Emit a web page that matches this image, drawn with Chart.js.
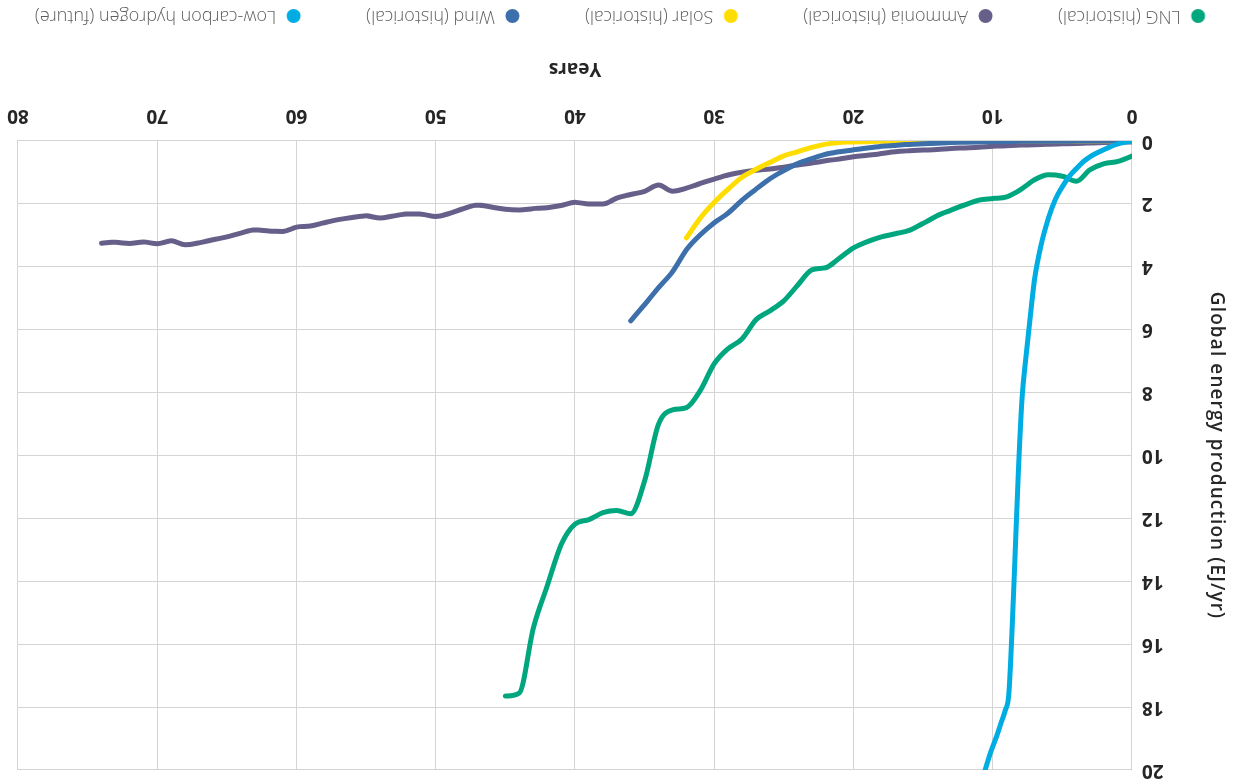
<!DOCTYPE html>
<html>
<head>
<meta charset="utf-8">
<script src="https://cdn.jsdelivr.net/npm/chart.js@4/dist/chart.umd.min.js"></script>
<style>
  html, body { margin: 0; padding: 0; width: 1239px; height: 782px; overflow: hidden; background: #ffffff; }
  #wrap { position: absolute; left: -40px; top: 0; width: 1319px; height: 782px;
          transform: rotate(180deg); transform-origin: 50% 50%; }
  canvas { display: block; }
</style>
</head>
<body>
<div id="wrap"><canvas id="c" width="1319" height="782"></canvas></div>
<script>
// ---------- data ----------
const seriesNames = ['LNG (historical)', 'Ammonia (historical)', 'Solar (historical)', 'Wind (historical)', 'Low-carbon hydrogen (future)'];
const seriesColors = ['#00A67E', '#655F8A', '#FFDD00', '#3D6FAB', '#00ADE3'];

const xTickValues = [0, 10, 20, 30, 40, 50, 60, 70, 80];
const yTickValues = [0, 2, 4, 6, 8, 10, 12, 14, 16, 18, 20];

const lngYears = [0,1,2,3,4,5,6,7,8,9,10,11,12,13,14,15,16,17,18,19,20,21,22,23,24,25,26,27,28,29,30,31,32,33,34,35,36,37,38,39,40,41,42,43,44,45];
const lngValues = [0.48,0.65,0.72,0.91,1.28,1.12,1.07,1.23,1.55,1.78,1.83,1.88,2.03,2.2,2.38,2.62,2.84,2.95,3.05,3.2,3.4,3.72,4.03,4.1,4.58,5.08,5.4,5.68,6.29,6.6,7.08,7.93,8.48,8.55,9.0,10.8,11.85,11.75,11.82,12.04,12.18,12.84,14.15,15.5,17.55,17.65];

const ammoniaYears = [0,1,2,3,4,5,6,7,8,9,10,11,12,13,14,15,16,17,18,19,20,21,22,23,24,25,26,27,28,29,30,31,32,33,34,35,36,37,38,39,40,41,42,43,44,45,46,47,48,49,50,51,52,53,54,55,56,57,58,59,60,61,62,63,64,65,66,67,68,69,70,71,72,73,74];
const ammoniaValues = [0.03,0.04,0.05,0.06,0.08,0.09,0.1,0.12,0.13,0.15,0.17,0.2,0.22,0.24,0.27,0.29,0.31,0.34,0.4,0.45,0.5,0.57,0.63,0.7,0.76,0.83,0.89,0.93,0.99,1.08,1.21,1.35,1.5,1.6,1.4,1.6,1.7,1.82,2.0,2.0,1.95,2.05,2.12,2.15,2.19,2.17,2.1,2.04,2.15,2.3,2.4,2.33,2.32,2.38,2.45,2.38,2.43,2.5,2.6,2.7,2.74,2.88,2.86,2.83,2.93,3.05,3.14,3.24,3.3,3.17,3.27,3.21,3.26,3.22,3.25];

const solarYears = [0,1,2,3,4,5,6,7,8,9,10,11,12,13,14,15,16,17,18,19,20,21,22,23,24,25,26,27,28,29,30,31,32];
const solarValues = [0,0,0,0,0,0,0,0,0,0,0,0,0,0,0,0.01,0.01,0.01,0.01,0.02,0.03,0.05,0.1,0.2,0.34,0.47,0.68,0.9,1.15,1.53,1.95,2.45,3.08];

const windYears = [0,1,2,3,4,5,6,7,8,9,10,11,12,13,14,15,16,17,18,19,20,21,22,23,24,25,26,27,28,29,30,31,32,33,34,35,36];
const windValues = [0,0,0,0,0,0.01,0.01,0.01,0.01,0.02,0.02,0.03,0.04,0.05,0.07,0.09,0.11,0.14,0.17,0.22,0.28,0.34,0.42,0.56,0.72,0.94,1.2,1.53,1.88,2.29,2.6,2.98,3.46,4.16,4.66,5.2,5.72];

const h2Years = [0,1,2,3,3.5,4,4.5,5,5.5,6,6.5,7,7.3,7.6,7.9,8.15,8.4,8.6,8.85,9.1,9.4,9.7,10.2,10.55];
const h2Values = [0,0.09,0.27,0.5,0.66,0.88,1.12,1.45,1.85,2.45,3.25,4.4,5.56,6.8,8.2,10.4,13.2,15.4,17.6,18.1,18.5,18.9,19.5,20.0];

// ---------- helpers ----------
const toPoints = (xs, ys) => xs.map((x, i) => ({ x: x, y: ys[i] }));
const seriesX = [lngYears, ammoniaYears, solarYears, windYears, h2Years];
const seriesY = [lngValues, ammoniaValues, solarValues, windValues, h2Values];
const drawOrder = [5, 4, 3, 2, 1];

function legendMarker(color) {
  const c = document.createElement('canvas');
  c.width = 70; c.height = 16;
  const g = c.getContext('2d');
  g.fillStyle = color;
  g.beginPath();
  g.arc(61.5, 8, 7, 0, Math.PI * 2);
  g.fill();
  return c;
}
const markers = seriesColors.map(legendMarker);

const FONT = "'Open Sans', 'Noto Sans', sans-serif";
const GRID = '#d4d4d4';
const TEXT = '#262626';

const datasets = seriesNames.map((name, i) => ({
  label: name,
  data: toPoints(seriesX[i], seriesY[i]),
  borderColor: seriesColors[i],
  backgroundColor: seriesColors[i],
  borderWidth: 5,
  pointRadius: 0,
  pointHoverRadius: 0,
  fill: false,
  cubicInterpolationMode: 'monotone',
  borderCapStyle: 'round',
  borderJoinStyle: 'round',
  order: drawOrder[i]
}));

// widen the letter spacing of the y-axis title only
const yTitleSpacing = {
  id: 'yTitleSpacing',
  beforeDraw(chart) {
    const s = chart.scales.y;
    if (s && !s._spacedTitle) {
      const orig = s.drawTitle;
      s.drawTitle = function () {
        const ctx = this.ctx;
        const prev = ctx.letterSpacing;
        ctx.letterSpacing = '1.1px';
        orig.call(this);
        ctx.letterSpacing = prev || '0px';
      };
      s._spacedTitle = true;
    }
  }
};

new Chart(document.getElementById('c'), {
  type: 'line',
  data: { datasets: datasets },
  plugins: [yTitleSpacing],
  options: {
    responsive: false,
    animation: false,
    devicePixelRatio: 1,
    layout: { padding: { left: 0, right: 55.5, top: 0, bottom: -3 } },
    plugins: {
      tooltip: { enabled: false },
      legend: {
        position: 'bottom',
        align: 'center',
        labels: {
          usePointStyle: true,
          pointStyleWidth: 70,
          boxHeight: 10,
          padding: 11,
          color: '#5f5f5f',
          font: { family: FONT, size: 18, weight: '300' },
          sort: (a, b) => a.datasetIndex - b.datasetIndex,
          generateLabels: (chart) => {
            const items = Chart.defaults.plugins.legend.labels.generateLabels(chart);
            items.forEach(it => { it.pointStyle = markers[it.datasetIndex]; });
            return items;
          }
        }
      }
    },
    scales: {
      x: {
        type: 'linear',
        position: 'bottom',
        min: 0, max: 80,
        afterBuildTicks: (s) => { s.ticks = xTickValues.map(v => ({ value: v })); },
        afterFit: (s) => { s.height = 105; s.paddingRight = 58; s.paddingLeft = 0; },
        ticks: { padding: 14.6, color: TEXT, maxRotation: 0, autoSkip: false,
                 font: { family: FONT, size: 19, weight: 'bold' } },
        grid: { color: GRID, lineWidth: 1, drawTicks: false },
        border: { color: GRID, width: 1 },
        title: { display: true, text: 'Years', color: TEXT,
                 font: { family: FONT, size: 19, weight: 'bold' },
                 padding: { top: 0, bottom: 21.1 } }
      },
      y: {
        type: 'linear',
        position: 'left',
        min: 0, max: 20,
        afterBuildTicks: (s) => { s.ticks = yTickValues.map(v => ({ value: v })); },
        afterFit: (s) => { s.width = 147; s.paddingTop = 12; s.paddingBottom = 0; },
        ticks: { padding: 10, color: TEXT, autoSkip: false,
                 font: { family: FONT, size: 19, weight: 'bold' } },
        grid: { color: GRID, lineWidth: 1, drawTicks: false },
        border: { color: GRID, width: 1 },
        title: { display: true, text: 'Global energy production (EJ/yr)', color: TEXT,
                 font: { family: FONT, size: 19, weight: '600' },
                 padding: { top: 51, bottom: 0 } }
      }
    }
  }
});
</script>
</body>
</html>
